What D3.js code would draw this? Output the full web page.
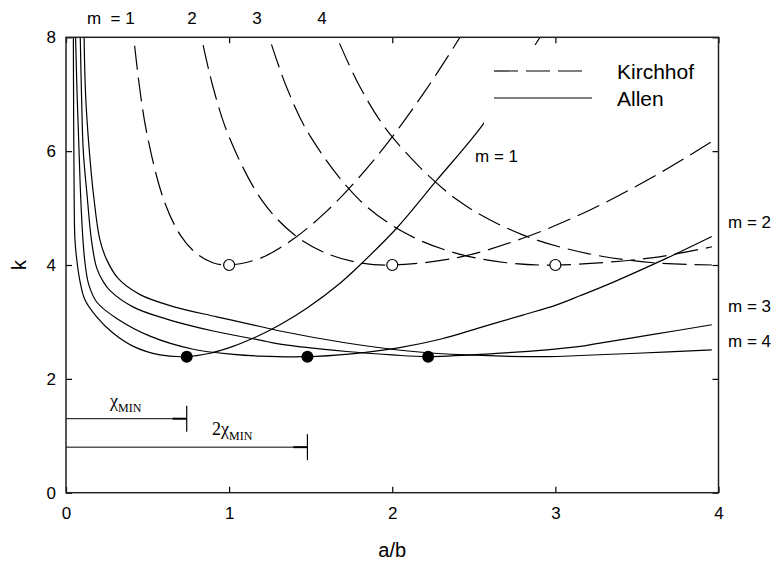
<!doctype html>
<html>
<head>
<meta charset="utf-8">
<script src="https://d3js.org/d3.v7.min.js"></script>
<style>
  body { margin: 0; background: #fff; }
  svg { font-family: "Liberation Sans", Arial, sans-serif; }
</style>
</head>
<body>
<script>
// x tick labels and y tick labels
var xTicks = [0, 1, 2, 3, 4];
var yTicks = [0, 2, 4, 6, 8];

// Kirchhof curves (dashed), [a/b, k]
var kirchhof1 = [[0.40,8.41],[0.45,7.14],[0.5,6.25],[0.6,5.14],[0.7,4.53],[0.8,4.20],[0.9,4.04],[1.0,4.0],[1.2,4.13],[1.4,4.47],[1.6,4.95],[1.8,5.55],[2.0,6.25],[2.2,7.05],[2.4,7.93],[2.5,8.41]];
var kirchhof2 = [[0.8,8.41],[0.9,7.14],[1.0,6.25],[1.2,5.14],[1.4,4.53],[1.6,4.20],[1.8,4.04],[2.0,4.0],[2.4,4.13],[2.8,4.47],[3.2,4.95],[3.6,5.55],[3.96,6.17]];
var kirchhof3 = [[1.2,8.41],[1.35,7.14],[1.5,6.25],[1.8,5.14],[2.1,4.53],[2.4,4.20],[2.7,4.04],[3.0,4.0],[3.6,4.13],[3.96,4.32]];
var kirchhof4 = [[1.6,8.41],[1.8,7.14],[2.0,6.25],[2.4,5.14],[2.8,4.53],[3.2,4.20],[3.6,4.04],[3.96,4.0]];

// Allen curves (solid)
var allen1 = [[0.045,8.2],[0.047,6.5],[0.05,5.2],[0.055,4.44],[0.07,4.0],[0.086,3.71],[0.116,3.39],[0.188,3.09],[0.29,2.80],[0.413,2.57],[0.576,2.42],[0.73,2.39],[0.883,2.45],[1.024,2.57],[1.19,2.77],[1.312,2.95],[1.476,3.24],[1.68,3.68],[1.813,4.03],[2.028,4.65],[2.273,5.49],[2.559,6.48],[2.906,8.0],[2.95,8.2]];
var allen2 = [[0.057,8.2],[0.068,7],[0.08,6],[0.09,5.2],[0.104,4.44],[0.118,4.0],[0.14,3.65],[0.188,3.35],[0.311,3.06],[0.515,2.75],[0.78,2.52],[1.026,2.43],[1.19,2.40],[1.47,2.39],[1.75,2.44],[2.028,2.54],[2.3,2.70],[2.538,2.90],[2.8,3.12],[3.008,3.30],[3.151,3.46],[3.356,3.70],[3.683,4.12],[3.959,4.5]];
var allen3 = [[0.086,8.2],[0.095,7],[0.106,6],[0.13,5.2],[0.156,4.44],[0.188,3.95],[0.23,3.7],[0.27,3.55],[0.413,3.26],[0.617,3.05],[0.903,2.84],[1.19,2.68],[1.312,2.61],[1.72,2.48],[2.0,2.42],[2.21,2.39],[2.6,2.44],[2.947,2.51],[3.151,2.57],[3.254,2.62],[3.6,2.78],[3.959,2.95]];
var allen4 = [[0.11,8.2],[0.12,7],[0.143,6],[0.17,5.2],[0.208,4.44],[0.25,4.09],[0.321,3.76],[0.454,3.48],[0.658,3.27],[0.924,3.09],[1.19,2.92],[1.312,2.84],[1.72,2.63],[2.13,2.48],[2.457,2.42],[2.95,2.39],[3.151,2.41],[3.5,2.45],[3.959,2.51]];

// minima markers
var kirchhofMin = [[1, 4], [2, 4], [3, 4]];
var allenMin = [[0.74, 2.39], [1.48, 2.39], [2.22, 2.39]];

// chi_min brackets: [length in a/b, k level]
var chiBars = [[0.74, 1.3], [1.48, 0.8]];

var width = 778, height = 561;
var x = d3.scaleLinear().domain([0, 4]).range([66, 718.5]);
var y = d3.scaleLinear().domain([0, 8]).range([492.7, 37.3]);

var svg = d3.select("body").append("svg")
    .attr("width", width)
    .attr("height", height);

svg.append("clipPath").attr("id", "plot")
  .append("rect")
    .attr("x", x(0)).attr("y", y(8))
    .attr("width", x(4) - x(0)).attr("height", y(0) - y(8));

var line = d3.line()
    .x(function(d) { return x(d[0]); })
    .y(function(d) { return y(d[1]); })
    .curve(d3.curveCatmullRom.alpha(0.5));

var curves = svg.append("g").attr("clip-path", "url(#plot)");

[kirchhof1, kirchhof2, kirchhof3, kirchhof4].forEach(function(s) {
    curves.append("path")
        .attr("d", line(s))
        .attr("fill", "none")
        .attr("stroke", "#000")
        .attr("stroke-width", 1.2)
        .attr("stroke-dasharray", "24,8");
});

[allen1, allen2, allen3, allen4].forEach(function(s) {
    curves.append("path")
        .attr("d", line(s))
        .attr("fill", "none")
        .attr("stroke", "#000")
        .attr("stroke-width", 1.2);
});

// legend (white box hides curves behind it)
var lg = svg.append("g");
lg.append("rect")
    .attr("x", 484).attr("y", 45)
    .attr("width", 228).attr("height", 79)
    .attr("fill", "#fff");
lg.append("line")
    .attr("x1", 494).attr("x2", 583).attr("y1", 71).attr("y2", 71)
    .attr("stroke", "#000").attr("stroke-width", 1.2)
    .attr("stroke-dasharray", "24,8");
lg.append("line")
    .attr("x1", 494).attr("x2", 592).attr("y1", 98).attr("y2", 98)
    .attr("stroke", "#000").attr("stroke-width", 1.2);
lg.append("text").attr("x", 617).attr("y", 79)
    .attr("font-size", 21).text("Kirchhof");
lg.append("text").attr("x", 617).attr("y", 106)
    .attr("font-size", 21).text("Allen");

// markers
svg.selectAll(".kmin").data(kirchhofMin).enter()
  .append("circle")
    .attr("cx", function(d) { return x(d[0]); })
    .attr("cy", function(d) { return y(d[1]); })
    .attr("r", 5.5)
    .attr("fill", "#fff")
    .attr("stroke", "#000")
    .attr("stroke-width", 1.2);

svg.selectAll(".amin").data(allenMin).enter()
  .append("circle")
    .attr("cx", function(d) { return x(d[0]); })
    .attr("cy", function(d) { return y(d[1]); })
    .attr("r", 6)
    .attr("fill", "#000");

// chi_min brackets
chiBars.forEach(function(b) {
    var g = svg.append("g").attr("stroke", "#000");
    g.append("line")
        .attr("x1", x(0)).attr("x2", x(b[0]))
        .attr("y1", y(b[1])).attr("y2", y(b[1]))
        .attr("stroke-width", 1);
    g.append("line")
        .attr("x1", x(b[0]) - 14).attr("x2", x(b[0]))
        .attr("y1", y(b[1])).attr("y2", y(b[1]))
        .attr("stroke-width", 2);
    g.append("line")
        .attr("x1", x(b[0])).attr("x2", x(b[0]))
        .attr("y1", y(b[1]) - 13).attr("y2", y(b[1]) + 13)
        .attr("stroke-width", 1.2);
});

var serif = "'Liberation Serif', 'Times New Roman', serif";
var t1 = svg.append("text").attr("x", 110).attr("y", 407)
    .attr("font-family", serif).attr("font-size", 18);
t1.append("tspan").text("χ");
t1.append("tspan").attr("font-size", 12).attr("dy", 5).text("MIN");

var t2 = svg.append("text").attr("x", 212).attr("y", 435)
    .attr("font-family", serif).attr("font-size", 18);
t2.append("tspan").text("2χ");
t2.append("tspan").attr("font-size", 12).attr("dy", 5).text("MIN");

// axes: ticks pointing inward on all sides
svg.append("g")
    .attr("transform", "translate(0," + y(0) + ")")
    .call(d3.axisBottom(x).tickValues(xTicks).tickSizeInner(-6).tickSizeOuter(0).tickPadding(14)
        .tickFormat(d3.format("d")))
    .call(function(g) { g.select(".domain").remove(); });

svg.append("g")
    .attr("transform", "translate(" + x(0) + ",0)")
    .call(d3.axisLeft(y).tickValues(yTicks).tickSizeInner(-6).tickSizeOuter(0).tickPadding(10)
        .tickFormat(d3.format("d")))
    .call(function(g) { g.select(".domain").remove(); });

svg.append("g")
    .attr("transform", "translate(0," + y(8) + ")")
    .call(d3.axisTop(x).tickValues(xTicks).tickSizeInner(-6).tickSizeOuter(0).tickFormat(""))
    .call(function(g) { g.select(".domain").remove(); });

svg.append("g")
    .attr("transform", "translate(" + x(4) + ",0)")
    .call(d3.axisRight(y).tickValues(yTicks).tickSizeInner(-6).tickSizeOuter(0).tickFormat(""))
    .call(function(g) { g.select(".domain").remove(); });

svg.selectAll(".tick line").attr("stroke", "#000").attr("stroke-width", 1.2);
svg.selectAll(".tick text")
    .attr("font-family", "'Liberation Sans', Arial, sans-serif")
    .attr("font-size", 17)
    .attr("fill", "#000");

svg.append("rect")
    .attr("x", x(0)).attr("y", y(8))
    .attr("width", x(4) - x(0)).attr("height", y(0) - y(8))
    .attr("fill", "none")
    .attr("stroke", "#222")
    .attr("stroke-width", 1.5);

// axis titles
svg.append("text")
    .attr("x", x(2)).attr("y", 557)
    .attr("text-anchor", "middle")
    .attr("font-size", 20)
    .text("a/b");

svg.append("text")
    .attr("transform", "translate(26," + y(4) + ") rotate(-90)")
    .attr("text-anchor", "middle")
    .attr("font-size", 20)
    .text("k");

// curve labels
svg.append("text").attr("x", 87).attr("y", 24)
    .attr("font-size", 17).style("white-space", "pre").text("m  = 1");
svg.append("text").attr("x", 192).attr("y", 24).attr("text-anchor", "middle")
    .attr("font-size", 17).text("2");
svg.append("text").attr("x", 257).attr("y", 24).attr("text-anchor", "middle")
    .attr("font-size", 17).text("3");
svg.append("text").attr("x", 322).attr("y", 24).attr("text-anchor", "middle")
    .attr("font-size", 17).text("4");

svg.append("text").attr("x", 475).attr("y", 162)
    .attr("font-size", 17).text("m = 1");
svg.append("text").attr("x", 728).attr("y", 228)
    .attr("font-size", 17).text("m = 2");
svg.append("text").attr("x", 728).attr("y", 312)
    .attr("font-size", 17).text("m = 3");
svg.append("text").attr("x", 728).attr("y", 347)
    .attr("font-size", 17).text("m = 4");
</script>
</body>
</html>
